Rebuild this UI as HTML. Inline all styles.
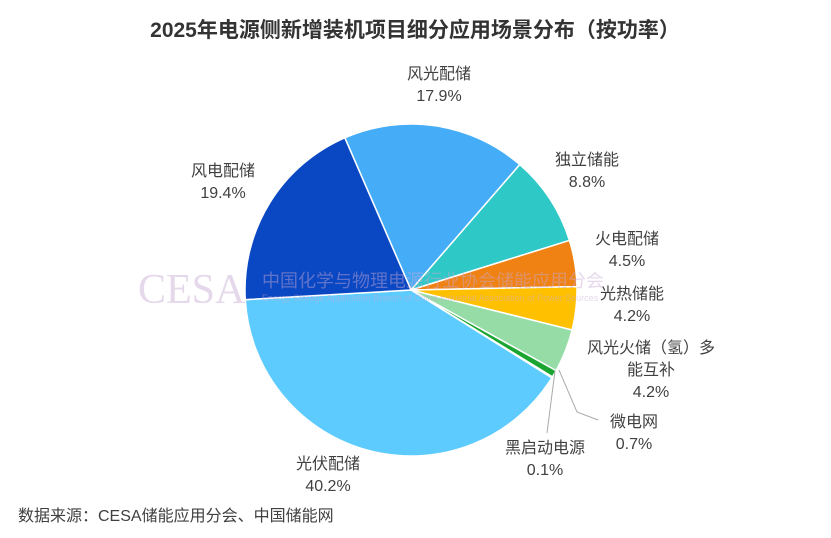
<!DOCTYPE html>
<html><head><meta charset="utf-8"><style>
body{margin:0;background:#fff;width:831px;height:538px;overflow:hidden;font-family:"Liberation Sans","Noto Sans CJK SC",sans-serif}
svg{display:block}
text{font-family:"Liberation Sans","Noto Sans CJK SC",sans-serif}
</style></head><body>
<svg id="chart" width="831" height="538">
<text x="415" y="37" text-anchor="middle" font-size="21" font-weight="bold" fill="#333">2025年电源侧新增装机项目细分应用场景分布（按功率）</text>
<g id="slices"></g>
<g opacity="0.45">
<text x="138" y="303" font-size="42" style="font-family:'Liberation Serif',serif" fill="#c7a9d4">CESA</text>
<text x="262" y="287" font-size="18" fill="#c7a9d4">中国化学与物理电源行业协会储能应用分会</text>
<text x="262" y="301" font-size="9" fill="#c7a9d4">Energy Storage Application Branch of China Industrial Association of Power Sources</text>
</g>
<g id="labels" font-size="16" fill="#404040" text-anchor="middle">
<text x="439" y="79">风光配储</text><text x="439" y="101">17.9%</text>
<text x="587" y="165">独立储能</text><text x="587" y="187">8.8%</text>
<text x="627" y="244">火电配储</text><text x="627" y="266">4.5%</text>
<text x="632" y="299">光热储能</text><text x="632" y="321">4.2%</text>
<text x="651" y="353">风光火储（氢）多</text><text x="651" y="375">能互补</text><text x="651" y="397">4.2%</text>
<text x="634" y="427">微电网</text><text x="634" y="449">0.7%</text>
<text x="545" y="453">黑启动电源</text><text x="545" y="475">0.1%</text>
<text x="328" y="469">光伏配储</text><text x="328" y="491">40.2%</text>
<text x="223" y="176">风电配储</text><text x="223" y="198">19.4%</text>
</g>
<polyline points="559,370 577,412 598,420" fill="none" stroke="#aaa"/>
<polyline points="555,371 547,433" fill="none" stroke="#aaa"/>
<text x="18" y="521" font-size="16" fill="#404040">数据来源：CESA储能应用分会、中国储能网</text>
</svg>
<script>
const categories=["风光配储","独立储能","火电配储","光热储能","风光火储（氢）多能互补","微电网","黑启动电源","光伏配储","风电配储"];
const values=[17.9,8.8,4.5,4.2,4.2,0.7,0.1,40.2,19.4];
const colors=["#45adf7","#2ec8c6","#f08213","#ffc000","#95dca6","#1aa531","#0b7a3a","#5dcbfd","#0a47c3"];
const cx=411,cy=290,r=166,start=-23.5;
const g=document.getElementById('slices');
const total=values.reduce((a,b)=>a+b,0);
let a=start;
function pt(deg){const t=deg*Math.PI/180;return [cx+r*Math.sin(t),cy-r*Math.cos(t)];}
values.forEach((v,i)=>{
 const s=a,e=a+v/total*360;a=e;
 const p1=pt(s),p2=pt(e);
 const p=document.createElementNS('http://www.w3.org/2000/svg','path');
 p.setAttribute('d',`M${cx},${cy}L${p1[0]},${p1[1]}A${r},${r} 0 ${e-s>180?1:0} 1 ${p2[0]},${p2[1]}Z`);
 p.setAttribute('fill',colors[i]);p.setAttribute('stroke','#fff');p.setAttribute('stroke-width','1.5');
 
 
 g.appendChild(p);
});
</script>
</body></html>
